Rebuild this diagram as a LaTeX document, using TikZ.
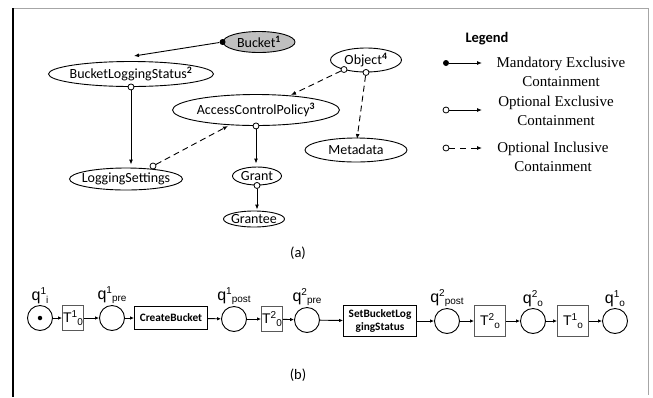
\documentclass[tikz,border=0pt]{standalone}
\usepackage{fontspec}
\setmainfont{Carlito}
\newfontfamily\legfont{Liberation Serif}
\newfontfamily\netfont{Liberation Sans}
\usetikzlibrary{shapes.geometric,arrows.meta,positioning}
\newcommand\zw[1]{\makebox[0pt]{#1}}
\newcommand\fsz[1]{\fontsize{#1}{#1}\selectfont}
\newcommand\sups[1]{\textsuperscript{\bfseries #1}}
\newcommand\qlab[2]{q\raisebox{6pt}{\fsz{10}#1}\raisebox{-2.5pt}{\fsz{10}#2}}
\newcommand\tlab[2]{T\raisebox{5.5pt}{\fsz{10}#1}\raisebox{-2.5pt}{\fsz{10}#2}}
\begin{document}
\begin{tikzpicture}[x=1pt,y=-1pt,
  ent/.style={ellipse, draw, line width=0.9pt, inner sep=0pt, font=\fsz{14}},
  ocirc/.style={circle, draw, fill=white, inner sep=0pt, minimum size=6pt, line width=0.8pt},
  fdot/.style={circle, fill=black, inner sep=0pt, minimum size=6pt},
  arr/.style={-{Latex[length=5pt,width=4pt]}, line width=0.9pt},
  darr/.style={arr, dash pattern=on 6pt off 4pt},
  place/.style={circle, draw, line width=0.9pt, minimum size=25pt, inner sep=0pt},
  trans/.style={draw=gray!70!black, line width=0.9pt, inner sep=0pt, font=\netfont\fsz{14}},
  task/.style={draw, line width=0.9pt, inner sep=0pt, font=\bfseries\fontsize{11.3}{13}\selectfont, align=center},
  parr/.style={-{Latex[length=4pt,width=3.5pt]}, line width=0.9pt},
  qtag/.style={font=\netfont\fsz{16}, inner sep=0pt},
  legtext/.style={font=\legfont\fontsize{15}{19}\selectfont, align=center},
  figcap/.style={font=\fsz{14.5}, inner sep=0pt}
]
\useasboundingbox (0,0) rectangle (653,397);

% frame
\draw[gray!70, line width=1pt] (13,8) -- (648,8) -- (648,395);
\draw[black, line width=1.3pt] (13,8) -- (13,397);

% ---------- (a) containment model ----------
\node[ent, fill=gray!50, minimum width=72pt, minimum height=21pt] (bucket) at (259,42) {\zw{Bucket\sups{1}}};
\node[ent, minimum width=165pt, minimum height=25pt] (bls) at (131,74) {\zw{BucketLoggingStatus\sups{2}}};
\node[ent, minimum width=167pt, minimum height=31pt] (acp) at (256,110) {\zw{AccessControlPolicy\sups{3}}};
\node[ent, minimum width=113pt, minimum height=22pt] (ls) at (126,179) {\zw{LoggingSettings}};
\node[ent, minimum width=49pt, minimum height=18pt] (grant) at (257,176) {\zw{Grant}};
\node[ent, minimum width=61pt, minimum height=16pt] (grantee) at (254,219) {\zw{Grantee}};
\node[ent, minimum width=71pt, minimum height=24pt] (obj) at (366,60) {\zw{Object\sups{4}}};
\node[ent, minimum width=102pt, minimum height=24pt] (meta) at (356,150) {\zw{Metadata}};

% containment edges
\node[fdot] (bdot) at (bucket.west) {};
\coordinate (blsin) at (134,56);
\draw[arr] (bdot) -- (blsin);

\node[ocirc] (c1) at (bls.south) {};
\draw[arr, shorten >=3pt] (c1) -- (c1 |- ls.north);

\node[ocirc] (c2) at (153,166) {};
\coordinate (acpin1) at (228,126);
\draw[darr] (c2) -- (acpin1);

\node[ocirc] (c3) at (acp.south) {};
\draw[arr, shorten >=3pt] (c3) -- (c3 |- grant.north);

\node[ocirc] (c4) at (grant.south) {};
\draw[arr, shorten >=1pt] (c4) -- (c4 |- grantee.north);

\node[ocirc] (c5) at (344,69.5) {};
\coordinate (acpin2) at (291,95);
\draw[darr] (c5) -- (acpin2);

\node[ocirc] (c6) at (obj.south) {};
\coordinate (metin) at (357,139);
\draw[darr] (c6) -- (metin);

% legend
\node[font=\bfseries\fsz{14.5}] (legend) at (487,39) {Legend};
\node[fdot] (lg1) at (446,63) {};
\coordinate (lg1e) at (482,63);
\draw[arr] (lg1) -- (lg1e);
\node[ocirc] (lg2) at (446,110) {};
\coordinate (lg2e) at (482,110);
\draw[arr] (lg2) -- (lg2e);
\node[ocirc] (lg3) at (446,148) {};
\coordinate (lg3e) at (482,148);
\draw[darr, dash pattern=on 6pt off 5pt] (lg3) -- (lg3e);
\node[legtext] (lt1) at (561,72) {Mandatory Exclusive\\Containment};
\node[legtext] (lt2) at (556,110.5) {Optional Exclusive\\Containment};
\node[legtext] (lt3) at (553,157) {Optional Inclusive\\Containment};

\node[figcap] (capa) at (298,253) {(a)};

% ---------- (b) Petri net ----------
\node[place] (qi) at (40,318) {};
\node[circle, fill=black, inner sep=0pt, minimum size=4.5pt] (tok) at (qi.center) {};
\node[trans, minimum width=21pt, minimum height=25pt] (t10) at (73,318) {\tlab{1}{0}};
\node[place] (qpre1) at (112,318) {};
\node[task, minimum width=73pt, minimum height=23pt] (create) at (171,318) {CreateBucket};
\node[place] (qpost1) at (234,319) {};
\node[trans, minimum width=21pt, minimum height=25pt] (t20) at (272,319) {\tlab{2}{0}};
\node[place] (qpre2) at (307,320) {};
\node[task, minimum width=73pt, minimum height=31pt] (setb) at (380,321) {SetBucketLog\\gingStatus};
\node[place] (qpost2) at (447,321) {};
\node[trans, minimum width=31pt, minimum height=31pt] (t2o) at (490,321) {\tlab{2}{o}};
\node[place] (qo2) at (533,321) {};
\node[trans, minimum width=31pt, minimum height=31pt] (t1o) at (573,321) {\tlab{1}{o}};
\node[place] (qo1) at (615,321) {};

\node[qtag, above=1pt of qi] (lqi) {\qlab{1}{i}};
\node[qtag, above=1pt of qpre1] (lqpre1) {\qlab{1}{pre}};
\node[qtag, above=1pt of qpost1] (lqpost1) {\qlab{1}{post}};
\node[qtag, above=1pt of qpre2] (lqpre2) {\qlab{2}{pre}};
\node[qtag, above=1pt of qpost2] (lqpost2) {\qlab{2}{post}};
\node[qtag, above=1pt of qo2] (lqo2) {\qlab{2}{o}};
\node[qtag, above=1pt of qo1] (lqo1) {\qlab{1}{o}};

\draw[parr] (qi) -- (t10);
\draw[parr] (t10) -- (qpre1);
\draw[parr] (qpre1) -- (create);
\draw[parr] (create) -- (qpost1);
\draw[parr] (qpost1) -- (t20);
\draw[parr] (t20) -- (qpre2);
\draw[parr] (qpre2) -- (setb);
\draw[parr] (setb) -- (qpost2);
\draw[parr] (qpost2) -- (t2o);
\draw[parr] (t2o) -- (qo2);
\draw[parr] (qo2) -- (t1o);
\draw[parr] (t1o) -- (qo1);

\node[figcap] (capb) at (298,375) {(b)};
\end{tikzpicture}
\end{document}
